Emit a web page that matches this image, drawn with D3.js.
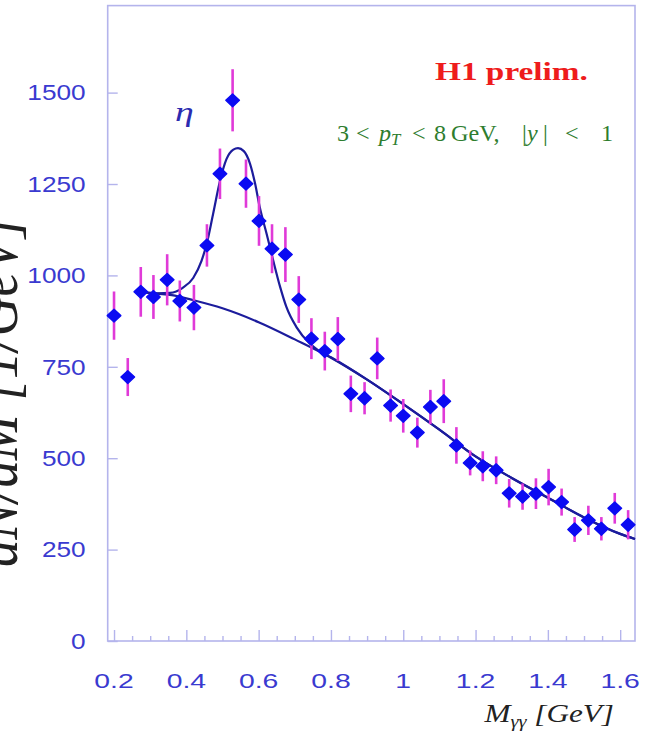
<!DOCTYPE html>
<html>
<head>
<meta charset="utf-8">
<script src="https://cdn.jsdelivr.net/npm/d3@7"></script>
<style>
  html, body { margin: 0; padding: 0; background: #ffffff; }
  svg { display: block; }
  text { white-space: pre; }
</style>
</head>
<body>
<div id="chart"></div>
<script>
// Di-photon invariant mass spectrum, eta region
const massX = [0.200,0.238,0.274,0.309,0.347,0.382,0.421,0.457,0.493,0.528,
               0.565,0.601,0.637,0.674,0.711,0.746,0.783,0.819,0.855,0.893,
               0.928,0.965,1.000,1.039,1.075,1.112,1.147,1.185,1.220,1.257,
               1.293,1.330,1.367,1.402,1.438,1.474,1.512,1.548,1.585,1.622];
const counts = [890,722,955,941,988,930,912,1082,1278,1479,
                1251,1149,1073,1057,934,827,793,826,676,664,
                773,644,616,570,640,656,535,487,478,467,
                404,395,403,421,380,305,330,307,363,318];
const errors = [66,52,68,60,70,56,62,58,69,85,
                66,68,67,75,64,56,53,60,50,44,
                57,44,46,41,47,60,50,34,41,38,
                39,36,42,50,37,34,40,32,42,40];

// background fit curve
const bgX = [0.27,0.32,0.36,0.42,0.50,0.60,0.70,0.80,0.90,1.00,1.10,1.20,1.30,1.40,1.50,1.60,1.641];
const bgY = [955,950,946,932,910,872,825,775,715,648,578,505,446,392,338,293,279];

// signal + background fit curve around the eta peak
const peakX = [0.27,0.32,0.355,0.39,0.419,0.442,0.456,0.474,0.493,0.511,0.530,0.543,0.559,0.576,0.590,0.603,0.622,0.640,0.659,0.677,0.705,0.741,0.765,0.80];
const peakY = [955,951,952,966,993,1040,1085,1168,1258,1318,1344,1348,1340,1306,1252,1187,1114,1042,970,913,858,814,795,776];

const xMajor = [0.2,0.4,0.6,0.8,1.0,1.2,1.4,1.6];
const xMinor = [0.25,0.3,0.35,0.45,0.5,0.55,0.65,0.7,0.75,0.85,0.9,0.95,1.05,1.1,1.15,1.25,1.3,1.35,1.45,1.5,1.55];
const xTickLabels = ["0.2","0.4","0.6","0.8","1","1.2","1.4","1.6"];
const yTicks = [0,250,500,750,1000,1250,1500];

const W = 645, H = 739;
const frame = {left: 107.7, right: 635, top: 5.6, bottom: 641};

const frameColor = "#b4b4ec";
const labelColor = "#3a3ad0";
const curveColor = "#1c1c9c";
const pointColor = "#0b0bf2";
const errColor = "#e03ad8";

const svg = d3.select("#chart").append("svg")
  .attr("width", W).attr("height", H);

const x = d3.scaleLinear().domain([0.1825, 1.641]).range([frame.left, frame.right]);
const y = d3.scaleLinear().domain([0, 1738]).range([frame.bottom, frame.top]);

// frame
svg.append("rect")
  .attr("x", frame.left).attr("y", frame.top)
  .attr("width", frame.right - frame.left).attr("height", frame.bottom - frame.top)
  .attr("fill", "none").attr("stroke", frameColor).attr("stroke-width", 1.6);

// x ticks (inward)
const xAxisMajor = d3.axisBottom(x).tickValues(xMajor).tickSize(-11).tickFormat("");
const xAxisMinor = d3.axisBottom(x).tickValues(xMinor).tickSize(-5).tickFormat("");
[xAxisMajor, xAxisMinor].forEach(ax => {
  const g = svg.append("g").attr("transform", `translate(0,${frame.bottom})`).call(ax);
  g.select(".domain").remove();
  g.selectAll("line").attr("stroke", frameColor).attr("stroke-width", 1.4);
});

// y ticks (inward)
const yAxis = d3.axisLeft(y).tickValues(yTicks).tickSize(-10).tickFormat("");
const gy = svg.append("g").attr("transform", `translate(${frame.left},0)`).call(yAxis);
gy.select(".domain").remove();
gy.selectAll("line").attr("stroke", frameColor).attr("stroke-width", 1.4);

// tick labels
const tickFont = "'Liberation Sans', Arial, sans-serif";
svg.append("g").selectAll("text").data(xMajor).join("text")
  .attr("transform", (d) => `translate(${x(d)},${frame.bottom + 47}) scale(1.35,1)`)
  .attr("text-anchor", "middle")
  .attr("font-family", tickFont).attr("font-size", 21)
  .attr("fill", labelColor)
  .text((d, i) => xTickLabels[i]);

svg.append("g").selectAll("text").data(yTicks).join("text")
  .attr("transform", d => `translate(${frame.left - 22},${y(d) + 7.8}) scale(1.22,1)`)
  .attr("text-anchor", "end")
  .attr("font-family", tickFont).attr("font-size", 21.5)
  .attr("fill", labelColor)
  .text(d => d);

// fit curves
const line = d3.line().x(d => x(d[0])).y(d => y(d[1])).curve(d3.curveMonotoneX);
const bgPts = bgX.map((v, i) => [v, bgY[i]]);
const peakPts = peakX.map((v, i) => [v, peakY[i]])
  .concat(bgPts.filter(p => p[0] > peakX[peakX.length - 1]));

svg.append("path").datum(bgPts).attr("d", line)
  .attr("fill", "none").attr("stroke", curveColor).attr("stroke-width", 2.2);
svg.append("path").datum(peakPts).attr("d", line)
  .attr("fill", "none").attr("stroke", curveColor).attr("stroke-width", 2.2);

// error bars
const pts = massX.map((m, i) => ({m, n: counts[i], e: errors[i]}));
svg.append("g").selectAll("line").data(pts).join("line")
  .attr("x1", d => x(d.m)).attr("x2", d => x(d.m))
  .attr("y1", d => y(d.n - d.e)).attr("y2", d => y(d.n + d.e))
  .attr("stroke", errColor).attr("stroke-width", 2.6);

// markers
const diamond = "M0,-6.4L6.8,0L0,6.4L-6.8,0Z";
svg.append("g").selectAll("path").data(pts).join("path")
  .attr("transform", d => `translate(${x(d.m)},${y(d.n)})`)
  .attr("d", diamond)
  .attr("fill", pointColor)
  .attr("stroke", pointColor).attr("stroke-width", 1.4).attr("stroke-linejoin", "round");

// annotations
const serif = "'Liberation Serif', 'Times New Roman', serif";

// fit a text horizontally between two page x positions
function fitWidth(sel, x0, x1, baseline) {
  const len = sel.node().getComputedTextLength();
  sel.attr("transform", `translate(${x0},${baseline}) scale(${(x1 - x0) / len},1)`);
}

const h1 = svg.append("text")
  .attr("font-family", serif).attr("font-weight", "bold").attr("font-size", 25)
  .attr("fill", "#ee1c1c")
  .text("H1 prelim.");
fitWidth(h1, 435, 588, 80);

// kinematic range, pieces placed along the line
const kinBase = 140.5, kinS = 1.05;
const kin = svg.append("text")
  .attr("transform", `translate(0,${kinBase}) scale(${kinS},1)`)
  .attr("font-family", serif).attr("font-size", 23)
  .attr("fill", "#2e7d2e");
const kinParts = [
  {t: "3", at: 337}, {t: "<", at: 356}, {t: "p", at: 379, it: true},
  {t: "T", at: 391, it: true, sub: true}, {t: "<", at: 412}, {t: "8", at: 434},
  {t: "GeV,", at: 451}, {t: "|", at: 522}, {t: "y", at: 527, it: true},
  {t: "|", at: 543}, {t: "<", at: 565}, {t: "1", at: 601}
];
kinParts.forEach(p => {
  kin.append("tspan")
    .attr("x", p.at / kinS)
    .attr("y", p.sub ? 4 : 0)
    .attr("font-style", p.it ? "italic" : null)
    .attr("font-size", p.sub ? 16 : null)
    .text(p.t);
});

svg.append("text")
  .attr("transform", `translate(175,121) scale(1.35,1)`)
  .attr("font-family", serif).attr("font-style", "italic").attr("font-size", 28)
  .attr("fill", "#2b2bb0")
  .text("η");

// axis titles
const xt = svg.append("text")
  .attr("transform", `translate(614,722) scale(1.2,1)`)
  .attr("text-anchor", "end")
  .attr("font-family", serif).attr("font-style", "italic").attr("font-size", 26)
  .attr("fill", "#222");
xt.append("tspan").text("M");
xt.append("tspan").attr("font-size", 17).attr("dy", 5).text("γγ");
xt.append("tspan").attr("dy", -5).text(" [GeV]");

svg.append("text")
  .attr("transform", `translate(17,392) rotate(-90) scale(1,1.2)`)
  .attr("text-anchor", "middle")
  .attr("font-family", serif).attr("font-style", "italic").attr("font-size", 55)
  .attr("fill", "#222")
  .text("dN/dM [1/GeV]");
</script>
</body>
</html>
